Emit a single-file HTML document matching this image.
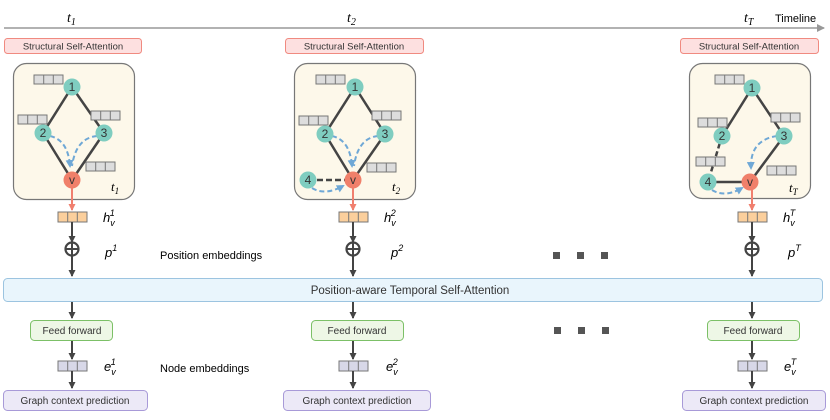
<!DOCTYPE html>
<html><head><meta charset="utf-8"><style>
html,body{margin:0;padding:0;background:#fff;}
svg text{font-family:"Liberation Sans",sans-serif;}
.it{font-family:"Liberation Serif",serif;font-style:italic;}
</style></head><body>
<svg width="830" height="415" viewBox="0 0 830 415" xmlns="http://www.w3.org/2000/svg">
<defs>
<marker id="ag" markerWidth="7" markerHeight="7" refX="6" refY="3.5" orient="auto" markerUnits="userSpaceOnUse"><path d="M0,0 L7,3.5 L0,7z" fill="#444"/></marker>
<marker id="ar" markerWidth="7" markerHeight="7" refX="6" refY="3.5" orient="auto" markerUnits="userSpaceOnUse"><path d="M0,0 L7,3.5 L0,7z" fill="#f07f6e"/></marker>
<marker id="ab" markerWidth="8" markerHeight="8" refX="6" refY="4" orient="auto" markerUnits="userSpaceOnUse"><path d="M0,0 L8,4 L0,8z" fill="#6fa8d6"/></marker>
<marker id="at" markerWidth="8" markerHeight="8" refX="7" refY="4" orient="auto" markerUnits="userSpaceOnUse"><path d="M0,0 L8,4 L0,8z" fill="#999"/></marker>
<g id="fb"><rect x="0" y="0" width="29" height="9" fill="#ddd" stroke="#777" stroke-width="1"/><line x1="9.7" y1="0" x2="9.7" y2="9" stroke="#777"/><line x1="19.3" y1="0" x2="19.3" y2="9" stroke="#777"/></g>
<g id="hb"><rect x="0" y="0" width="29" height="10" fill="#fbcf9c" stroke="#777"/><line x1="9.7" y1="0" x2="9.7" y2="10" stroke="#777"/><line x1="19.3" y1="0" x2="19.3" y2="10" stroke="#777"/></g>
<g id="eb"><rect x="0" y="0" width="29" height="10" fill="#d8d8e8" stroke="#777"/><line x1="9.7" y1="0" x2="9.7" y2="10" stroke="#777"/><line x1="19.3" y1="0" x2="19.3" y2="10" stroke="#777"/></g>
</defs>

<line x1="4" y1="28" x2="824" y2="28" stroke="#999" stroke-width="1.5" marker-end="url(#at)"/>
<text x="67" y="22" class="it" font-size="14">t<tspan font-size="10" dy="3">1</tspan></text>
<text x="347" y="22" class="it" font-size="14">t<tspan font-size="10" dy="3">2</tspan></text>
<text x="744" y="22" class="it" font-size="14">t<tspan font-size="10" dy="3" font-style="italic">T</tspan></text>
<text x="775" y="22" font-size="11">Timeline</text>

<g font-size="9.5" fill="#333" text-anchor="middle">
<rect x="4.5" y="38.5" width="137" height="15" rx="3" fill="#fde0e0" stroke="#f08a80"/>
<text x="73" y="49.5">Structural Self-Attention</text>
<rect x="285.5" y="38.5" width="138" height="15" rx="3" fill="#fde0e0" stroke="#f08a80"/>
<text x="354" y="49.5">Structural Self-Attention</text>
<rect x="680.5" y="38.5" width="138" height="15" rx="3" fill="#fde0e0" stroke="#f08a80"/>
<text x="749" y="49.5">Structural Self-Attention</text>
</g>

<rect x="13.5" y="63.5" width="121" height="136" rx="13" fill="#fdf8ea" stroke="#777" stroke-width="1.2"/>
<rect x="294.5" y="63.5" width="121" height="136" rx="13" fill="#fdf8ea" stroke="#777" stroke-width="1.2"/>
<rect x="689.5" y="63.5" width="121" height="135" rx="13" fill="#fdf8ea" stroke="#777" stroke-width="1.2"/>

<g stroke="#444" stroke-width="2.5">
<line x1="72" y1="87" x2="43" y2="133"/><line x1="72" y1="87" x2="104" y2="133"/>
<line x1="43" y1="133" x2="72" y2="180"/><line x1="104" y1="133" x2="72" y2="180"/>
</g>
<g fill="none" stroke="#6fa8d6" stroke-width="2" stroke-dasharray="5,3">
<path d="M50,136 Q68,140 70,166" marker-end="url(#ab)"/>
<path d="M97,136 Q76,138 72,166"/>
</g>
<use href="#fb" x="34" y="75"/><use href="#fb" x="18" y="115"/><use href="#fb" x="91" y="111"/><use href="#fb" x="86" y="162"/>
<g font-size="12" text-anchor="middle" fill="#333">
<circle cx="72" cy="87" r="8.5" fill="#7fcdc0"/><text x="72" y="91">1</text>
<circle cx="43" cy="133" r="8.5" fill="#7fcdc0"/><text x="43" y="137">2</text>
<circle cx="104" cy="133" r="8.5" fill="#7fcdc0"/><text x="104" y="137">3</text>
<circle cx="72" cy="180" r="8.5" fill="#f0806a"/><text x="72" y="184">v</text>
</g>
<text x="111" y="191" class="it" font-size="13">t<tspan font-size="9" dy="3">1</tspan></text>

<g stroke="#444" stroke-width="2.5">
<line x1="355" y1="87" x2="325" y2="134"/><line x1="355" y1="87" x2="385" y2="134"/>
<line x1="325" y1="134" x2="353" y2="180"/><line x1="385" y1="134" x2="353" y2="180"/>
<line x1="308" y1="180" x2="345" y2="180" stroke-dasharray="6,3"/>
</g>
<g fill="none" stroke="#6fa8d6" stroke-width="2" stroke-dasharray="5,3">
<path d="M332,136 Q350,140 352,166" marker-end="url(#ab)"/>
<path d="M378,136 Q358,138 354,166"/>
<path d="M312,188 Q325,196 343,186" marker-end="url(#ab)"/>
</g>
<use href="#fb" x="316" y="75"/><use href="#fb" x="299" y="116"/><use href="#fb" x="372" y="111"/><use href="#fb" x="367" y="163"/>
<g font-size="12" text-anchor="middle" fill="#333">
<circle cx="355" cy="87" r="8.5" fill="#7fcdc0"/><text x="355" y="91">1</text>
<circle cx="325" cy="134" r="8.5" fill="#7fcdc0"/><text x="325" y="138">2</text>
<circle cx="385" cy="134" r="8.5" fill="#7fcdc0"/><text x="385" y="138">3</text>
<circle cx="308" cy="180" r="8.5" fill="#7fcdc0"/><text x="308" y="184">4</text>
<circle cx="353" cy="180" r="8.5" fill="#f0806a"/><text x="353" y="184">v</text>
</g>
<text x="392" y="191" class="it" font-size="13">t<tspan font-size="9" dy="3">2</tspan></text>

<g stroke="#444" stroke-width="2.5">
<line x1="752" y1="88" x2="722" y2="136"/><line x1="752" y1="88" x2="784" y2="136"/>
<line x1="784" y1="136" x2="750" y2="182"/><line x1="708" y1="182" x2="742" y2="182"/>
<line x1="722" y1="136" x2="708" y2="182" stroke-dasharray="5,3"/>
</g>
<g fill="none" stroke="#6fa8d6" stroke-width="2" stroke-dasharray="5,3">
<path d="M777,136 Q750,140 751,168" marker-end="url(#ab)"/>
<path d="M712,190 Q725,198 742,188" marker-end="url(#ab)"/>
</g>
<use href="#fb" x="715" y="75"/><use href="#fb" x="698" y="118"/><use href="#fb" x="771" y="113"/><use href="#fb" x="696" y="157"/><use href="#fb" x="767" y="166"/>
<g font-size="12" text-anchor="middle" fill="#333">
<circle cx="752" cy="88" r="8.5" fill="#7fcdc0"/><text x="752" y="92">1</text>
<circle cx="722" cy="136" r="8.5" fill="#7fcdc0"/><text x="722" y="140">2</text>
<circle cx="784" cy="136" r="8.5" fill="#7fcdc0"/><text x="784" y="140">3</text>
<circle cx="708" cy="182" r="8.5" fill="#7fcdc0"/><text x="708" y="186">4</text>
<circle cx="750" cy="182" r="8.5" fill="#f0806a"/><text x="750" y="186">v</text>
</g>
<text x="789" y="192" class="it" font-size="13">t<tspan font-size="9" dy="3" font-style="italic">T</tspan></text>

<g id="c1">
<line x1="72" y1="188" x2="72" y2="210" stroke="#f07f6e" stroke-width="2" marker-end="url(#ar)"/>
<use href="#hb" x="58" y="212"/>
<line x1="72" y1="222" x2="72" y2="242" stroke="#444" stroke-width="2" marker-end="url(#ag)"/>
<circle cx="72" cy="249" r="6.5" fill="#fff" stroke="#444" stroke-width="2.2"/>
<line x1="65.5" y1="249" x2="78.5" y2="249" stroke="#444" stroke-width="2"/><line x1="72" y1="242.5" x2="72" y2="255.5" stroke="#444" stroke-width="2"/>
<line x1="72" y1="256" x2="72" y2="276" stroke="#444" stroke-width="2" marker-end="url(#ag)"/>
<line x1="72" y1="302" x2="72" y2="318" stroke="#444" stroke-width="2" marker-end="url(#ag)"/>
<line x1="72" y1="341" x2="72" y2="359" stroke="#444" stroke-width="2" marker-end="url(#ag)"/>
<use href="#eb" x="58" y="361"/>
<line x1="72" y1="371" x2="72" y2="388" stroke="#444" stroke-width="2" marker-end="url(#ag)"/>
</g>
<use href="#c1" x="281"/>
<use href="#c1" x="680"/>

<g class="it" font-size="13">
<text x="103" y="222">h<tspan font-size="9" dy="4">v</tspan><tspan font-size="9" dx="-5" dy="-10">1</tspan></text>
<text x="384" y="222">h<tspan font-size="9" dy="4">v</tspan><tspan font-size="9" dx="-5" dy="-10">2</tspan></text>
<text x="783" y="222">h<tspan font-size="9" dy="4">v</tspan><tspan font-size="9" dx="-5" dy="-10">T</tspan></text>
<text x="105" y="257">p<tspan font-size="9" dy="-6">1</tspan></text>
<text x="391" y="257">p<tspan font-size="9" dy="-6">2</tspan></text>
<text x="788" y="257">p<tspan font-size="9" dy="-6">T</tspan></text>
<text x="104" y="371">e<tspan font-size="9" dy="4">v</tspan><tspan font-size="9" dx="-5" dy="-10">1</tspan></text>
<text x="386" y="371">e<tspan font-size="9" dy="4">v</tspan><tspan font-size="9" dx="-5" dy="-10">2</tspan></text>
<text x="784" y="371">e<tspan font-size="9" dy="4">v</tspan><tspan font-size="9" dx="-5" dy="-10">T</tspan></text>
</g>
<text x="160" y="259" font-size="11">Position embeddings</text>
<text x="160" y="372" font-size="11">Node embeddings</text>

<rect x="3.5" y="278.5" width="819" height="23" rx="4" fill="#e9f5fc" stroke="#9cc4e0"/>
<text x="410" y="294" font-size="11.5" text-anchor="middle" fill="#333">Position-aware Temporal Self-Attention</text>

<g font-size="10" text-anchor="middle" fill="#333">
<rect x="30.5" y="320.5" width="82" height="20" rx="4" fill="#eef7e6" stroke="#7cc067"/><text x="72" y="334">Feed forward</text>
<rect x="311.5" y="320.5" width="92" height="20" rx="4" fill="#eef7e6" stroke="#7cc067"/><text x="357" y="334">Feed forward</text>
<rect x="707.5" y="320.5" width="92" height="20" rx="4" fill="#eef7e6" stroke="#7cc067"/><text x="753" y="334">Feed forward</text>
<rect x="3.5" y="390.5" width="144" height="20" rx="4" fill="#ece9f7" stroke="#a89ad8"/><text x="75" y="404">Graph context prediction</text>
<rect x="283.5" y="390.5" width="147" height="20" rx="4" fill="#ece9f7" stroke="#a89ad8"/><text x="357" y="404">Graph context prediction</text>
<rect x="682.5" y="390.5" width="143" height="20" rx="4" fill="#ece9f7" stroke="#a89ad8"/><text x="754" y="404">Graph context prediction</text>
</g>

<g fill="#555">
<rect x="553" y="252" width="7" height="7"/><rect x="577" y="252" width="7" height="7"/><rect x="601" y="252" width="7" height="7"/>
<rect x="554" y="327" width="7" height="7"/><rect x="578" y="327" width="7" height="7"/><rect x="602" y="327" width="7" height="7"/>
</g>
</svg>
</body></html>
